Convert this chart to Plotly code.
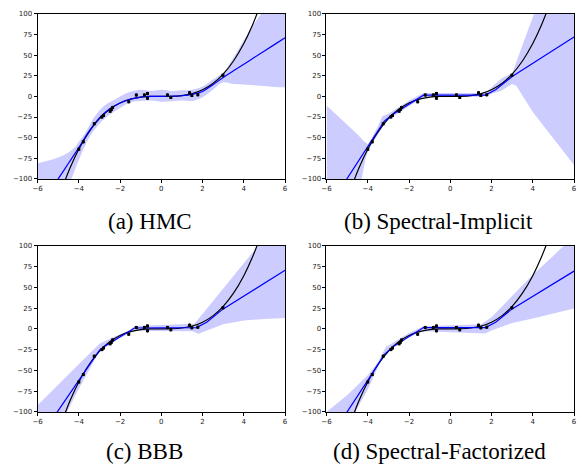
import plotly.graph_objects as go

# ---------------- data ----------------
x_obs = [-4.0, -3.78, -3.25, -2.88, -2.8, -2.48, -2.42, -2.36, -1.58, -1.21,
         -0.82, -0.67, -0.67, 0.30, 0.46, 1.37, 1.48, 1.77, 2.99]
y_obs = [-64, -55, -33, -25, -23, -18, -16, -13.5, -6.4, 1.6,
         1.6, 3.5, -2.4, 1.6, -1.2, 4.4, 1.2, 2.0, 25.5]
y_err = [2.0] * len(x_obs)

x_true = [-4.8, -4.4, -4, -3.5, -3, -2.5, -2, -1.5, -1, -0.5, 0,
          0.5, 1, 1.5, 2, 2.5, 3, 3.5, 4, 4.4, 4.8]
y_true = [-110.6, -85.2, -64, -42.9, -27, -15.6, -8, -3.4, -1, -0.1, 0,
          0.1, 1, 3.4, 8, 15.6, 27, 42.9, 64, 85.2, 110.6]

# (a) HMC
a_mean_x = [-6, -5, -4.5, -4, -3.5, -3, -2.5, -2, -1.5, -1, -0.5, 0, 0.5, 1,
            1.5, 2, 2.5, 3, 3.5, 4, 4.5, 5, 5.5, 6]
a_mean_y = [-138, -100, -81, -62, -42, -26, -15, -8, -3.5, -0.8, 0, 0, 0.2, 0.8,
            2.5, 6, 14, 23, 31, 39, 47, 55, 63, 71]
a_up_x = [-6, -5.5, -5, -4.5, -4.2, -4, -3.7, -3.5, -3.25, -3, -2.75, -2.5, -2,
          -1.5, -1, -0.5, 0, 0.5, 1, 1.5, 2, 2.5, 3, 3.5, 4, 4.5, 5, 5.5, 6]
a_up_y = [-81, -78, -74, -68, -62, -55, -45, -36, -25, -17, -11, -7, 0,
          5.5, 8, 6.5, 8, 6.5, 7.5, 8, 12, 20.5, 29, 47, 68, 88, 105, 120, 135]
a_lo_x = [-6, -4.8, -4.36, -4, -3.5, -3, -2.5, -2, -1.5, -1, -0.5, 0, 0.5, 1,
          1.5, 2, 2.5, 3, 3.5, 4, 4.5, 5, 5.5, 6]
a_lo_y = [-160, -125, -100, -77, -50, -33, -22, -14, -7, -5.5, -5, -6.5, -6, -5,
          -5.5, -1, 8, 17, 15, 14.5, 13.5, 12.5, 11.5, 11]

# (b) Spectral-Implicit
b_mean_x = [-6, -5, -4, -3.2, -2.8, -1.3, 1.7, 2.2, 3, 6]
b_mean_y = [-138, -100, -62, -30, -22, 1.5, 1.5, 8, 24, 72]
b_up_x = [-6, -5, -4.5, -4.2, -4, -3.8, -3.5, -3.3, -3, -2.8, -2.5, -2, -1.3,
          1.5, 1.8, 2, 2.5, 2.8, 3, 3.5, 4.06, 4.5, 6]
b_up_y = [-11, -34, -46, -54, -58, -50, -36, -24, -21, -18, -13, -5, 4,
          4, 6, 11, 22, 26, 28, 62, 100, 130, 232]
b_lo_x = [-6, -4.4, -4.3, -4.1, -4, -3.8, -3.5, -3.2, -3, -2.8, -2, -1.3,
          1.5, 1.8, 2, 2.5, 2.8, 3, 3.2, 4, 5, 6]
b_lo_y = [-200, -105, -100, -75, -67, -58, -46, -34, -29, -25, -12, -1,
          -0.5, 1, 3, 7, 12, 15, 13, -19, -51, -83]

# (c) BBB
c_mean_x = [-6, -5.04, -4, -3, -2.8, -1.3, 1.7, 2.2, 3, 6]
c_mean_y = [-137, -100, -62, -26, -22, 1, 1.5, 8, 24, 70.5]
c_up_x = [-6, -4, -3, -2.5, -2, -1.5, -1.3, 1.5, 1.6, 2, 3, 4, 4.7, 6]
c_up_y = [-92, -43, -18, -12, -6, -1, 3.5, 5.5, 6, 18, 48, 78, 100, 140]
c_lo_x = [-6, -4.6, -4, -3, -2.5, -2, -1.3, 1.0, 1.5, 1.8, 2, 3, 4, 5, 6]
c_lo_y = [-170, -100, -72, -27, -19, -11, -2.5, -2.5, -3, -6, -4, 5.5, 10, 12, 13]

# (d) Spectral-Factorized
d_mean_x = [-6, -4.98, -4, -3.2, -2.8, -1.3, 1.7, 2.2, 3, 6]
d_mean_y = [-138, -100, -62, -31, -22, 1.5, 1.5, 8, 24, 69.5]
d_up_x = [-6, -5, -4, -3.5, -3.25, -3.1, -3, -2.5, -2, -1.3, 1.5, 2, 3, 4, 5, 5.5, 6]
d_up_y = [-100, -80, -56, -40, -28, -21, -20, -13, -5, 3, 5.5, 14, 40, 65, 88, 100, 110]
d_lo_x = [-6, -4.6, -4, -3.3, -3, -2, -1.3, 1.5, 1.7, 2, 3, 4, 5, 6]
d_lo_y = [-200, -100, -73, -35, -27, -10, -3, -5, -5.5, -2, 7, 12.5, 18.5, 24.5]

x_ticks = [-6, -4, -2, 0, 2, 4, 6]
y_ticks = [-100, -75, -50, -25, 0, 25, 50, 75, 100]
captions = ["(a) HMC", "(b) Spectral-Implicit", "(c) BBB", "(d) Spectral-Factorized"]

panels = [
    (a_mean_x, a_mean_y, a_up_x, a_up_y, a_lo_x, a_lo_y, "spline"),
    (b_mean_x, b_mean_y, b_up_x, b_up_y, b_lo_x, b_lo_y, "linear"),
    (c_mean_x, c_mean_y, c_up_x, c_up_y, c_lo_x, c_lo_y, "linear"),
    (d_mean_x, d_mean_y, d_up_x, d_up_y, d_lo_x, d_lo_y, "linear"),
]

W, H = 579, 467
# plot-area boxes in window pixels: (left, right, top, bottom)
boxes = [(33, 284, 10, 178), (326, 577, 10, 178),
         (33, 284, 246, 415), (326, 577, 246, 415)]
cap_pos = [(147, 221), (440, 221), (141, 455), (441, 455)]


def px(v):
    return v / W


def py(v):
    return 1 - v / H


BAND = "rgb(204,204,255)"
fig = go.Figure()
layout = dict(width=W, height=H, margin=dict(l=0, r=0, t=0, b=0),
              paper_bgcolor="white", plot_bgcolor="white", showlegend=False)
annotations = []

for i, (mx, my, ux, uy, lx, ly, shape) in enumerate(panels):
    n = "" if i == 0 else str(i + 1)
    xa, ya = "x" + n, "y" + n
    fig.add_trace(go.Scatter(x=ux, y=uy, mode="lines", line=dict(width=0, shape=shape),
                             xaxis=xa, yaxis=ya, hoverinfo="skip"))
    fig.add_trace(go.Scatter(x=lx, y=ly, mode="lines", line=dict(width=0, shape=shape),
                             fill="tonexty", fillcolor=BAND,
                             xaxis=xa, yaxis=ya, hoverinfo="skip"))
    fig.add_trace(go.Scatter(x=x_true, y=y_true, mode="lines",
                             line=dict(color="black", width=1.2, shape="spline"),
                             xaxis=xa, yaxis=ya))
    fig.add_trace(go.Scatter(x=mx, y=my, mode="lines",
                             line=dict(color="blue", width=1.2, shape=shape),
                             xaxis=xa, yaxis=ya))
    fig.add_trace(go.Scatter(x=x_obs, y=y_obs, mode="markers",
                             marker=dict(color="black", size=3, symbol="square"),
                             error_y=dict(type="data", array=y_err, color="black",
                                          thickness=1, width=0),
                             xaxis=xa, yaxis=ya))
    l, r, t, b = boxes[i]
    common = dict(showline=True, mirror=True, linecolor="black", linewidth=1,
                  showgrid=False, zeroline=False, ticks="outside", ticklen=3,
                  tickwidth=1, tickcolor="black",
                  tickfont=dict(family="DejaVu Sans", size=7, color="#222"))
    layout["xaxis" + n] = dict(domain=[px(l), px(r)], range=[-6, 6],
                               tickvals=x_ticks, anchor=ya, **common)
    layout["yaxis" + n] = dict(domain=[py(b), py(t)], range=[-100, 100],
                               tickvals=y_ticks, anchor=xa, **common)
    cx, cy = cap_pos[i]
    annotations.append(dict(text=captions[i], x=px(cx), y=py(cy),
                            xref="paper", yref="paper", showarrow=False,
                            xanchor="center", yanchor="middle",
                            font=dict(family="Liberation Serif", size=23, color="black")))

layout["annotations"] = annotations
fig.update_layout(**layout)
fig.write_html("out.html",
               config={"displayModeBar": False},
               post_script="document.body.style.margin='0px';"
                           "document.documentElement.style.overflow='hidden';")
